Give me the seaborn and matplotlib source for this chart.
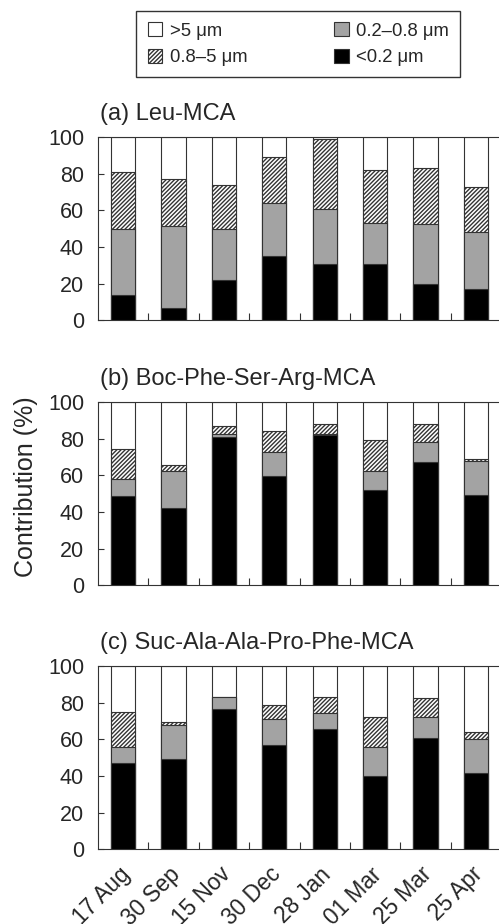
import numpy as np
import matplotlib
matplotlib.use('Agg')
import matplotlib.pyplot as plt
import matplotlib.ticker as mticker
import matplotlib.transforms as mtransforms
from matplotlib.patches import Patch
import seaborn as sns

# =========================
# DATA (% contribution of each size class)
# =========================
dates = ['17 Aug', '30 Sep', '15 Nov', '30 Dec', '28 Jan', '01 Mar', '25 Mar', '25 Apr']
panel_titles = ['(a) Leu-MCA', '(b) Boc-Phe-Ser-Arg-MCA', '(c) Suc-Ala-Ala-Pro-Phe-MCA']

# <0.2 um
lt02 = [
    [14, 7, 22, 35, 31, 31, 20, 17],
    [49, 42, 81, 59.5, 82, 52, 67.5, 49.5],
    [47, 49.5, 76.5, 57, 65.5, 40, 60.5, 41.5],
]
# 0.2-0.8 um
mid = [
    [36, 44.5, 28, 29, 30, 22, 32.5, 31],
    [9, 20.5, 1.5, 13, 0.5, 10.5, 10.5, 18.5],
    [9, 18.5, 6.5, 14, 9, 16, 11.5, 18.5],
]
# 0.8-5 um
coarse = [
    [31, 25.5, 24, 25, 38, 29, 30.5, 25],
    [16.5, 3, 4.5, 11.5, 5.5, 17, 10, 1.2],
    [19, 1.5, 0, 8, 8.5, 16, 10.5, 4],
]
# >5 um is the remainder up to 100

size_labels = ['>5 \u03bcm', '0.8\u20135 \u03bcm', '0.2\u20130.8 \u03bcm', '<0.2 \u03bcm']

# =========================
# STYLE
# =========================
sns.set_style('ticks')
plt.rcParams['font.family'] = ['Liberation Sans', 'DejaVu Sans']
plt.rcParams['hatch.linewidth'] = 1.0
plt.rcParams['hatch.color'] = 'black'

grey = '#a3a3a3'
edge = '#333333'
hatch = '////////'
bar_w = 0.48

fig = plt.figure(figsize=(4.99, 9.24), dpi=100)

tops = [0.8517, 0.5649, 0.2792]
height = 0.1985
left = 98 / 499
width = 403 / 499

for k in range(3):
    ax = fig.add_axes([left, tops[k] - height, width, height])
    c1 = np.array(lt02[k])
    c2 = c1 + np.array(mid[k])
    c3 = c2 + np.array(coarse[k])

    # draw tallest first so shorter stacks cover them
    sns.barplot(x=dates, y=[100] * len(dates), color='white', edgecolor=edge,
                linewidth=0.8, width=bar_w, ax=ax, zorder=2)
    sns.barplot(x=dates, y=c3, color='white', edgecolor=edge, hatch=hatch,
                linewidth=0.8, width=bar_w, ax=ax, zorder=3)
    sns.barplot(x=dates, y=c2, color=grey, edgecolor=edge,
                linewidth=0.8, width=bar_w, ax=ax, zorder=4)
    sns.barplot(x=dates, y=c1, color='black', edgecolor=edge,
                linewidth=0.8, width=bar_w, ax=ax, zorder=5)

    ax.set_xlim(-0.5, 7.5)
    ax.set_ylim(0, 100)
    ax.set_yticks([0, 20, 40, 60, 80, 100])
    ax.tick_params(axis='y', direction='in', length=4.5, width=0.8,
                   labelsize=15.5, pad=10, color=edge)
    ax.xaxis.set_minor_locator(mticker.FixedLocator(np.arange(0.5, 7.5, 1)))
    ax.tick_params(axis='x', which='minor', direction='in', length=5, width=0.8, color=edge)
    ax.tick_params(axis='x', which='major', length=0)
    if k < 2:
        ax.set_xticklabels([])
    else:
        ax.set_xticks(range(len(dates)))
        ax.set_xticklabels(dates, rotation=45, ha='right', rotation_mode='anchor',
                           fontsize=16.3)
        ax.tick_params(axis='x', which='major', pad=9)
        shift = mtransforms.ScaledTranslation(-5 / 100, -1 / 100, fig.dpi_scale_trans)
        for lab in ax.get_xticklabels():
            lab.set_transform(lab.get_transform() + shift)
    ax.set_xlabel('')
    ax.set_ylabel('')
    for s in ax.spines.values():
        s.set_color(edge)
        s.set_linewidth(0.8)
    ax.set_title(panel_titles[k], loc='left', fontsize=17, pad=12, x=0.005)

fig.text(0.052, 0.473, 'Contribution (%)', rotation=90, fontsize=18,
         ha='center', va='center')

handles = [
    Patch(facecolor='white', edgecolor=edge, linewidth=0.8),
    Patch(facecolor='white', edgecolor=edge, hatch=hatch, linewidth=0.8),
    Patch(facecolor=grey, edgecolor=edge, linewidth=0.8),
    Patch(facecolor='black', edgecolor=edge, linewidth=0.8),
]
leg = fig.legend(handles, size_labels, ncol=2, loc='upper center',
                 bbox_to_anchor=(0.598, 0.988), borderaxespad=0,
                 fontsize=13.3, frameon=True, fancybox=False, edgecolor='black',
                 handlelength=0.8, handleheight=0.8, handletextpad=0.4,
                 columnspacing=4.7, borderpad=0.6, labelspacing=0.5)
leg.get_frame().set_linewidth(1.0)

fig.savefig('out.png', dpi=100)
